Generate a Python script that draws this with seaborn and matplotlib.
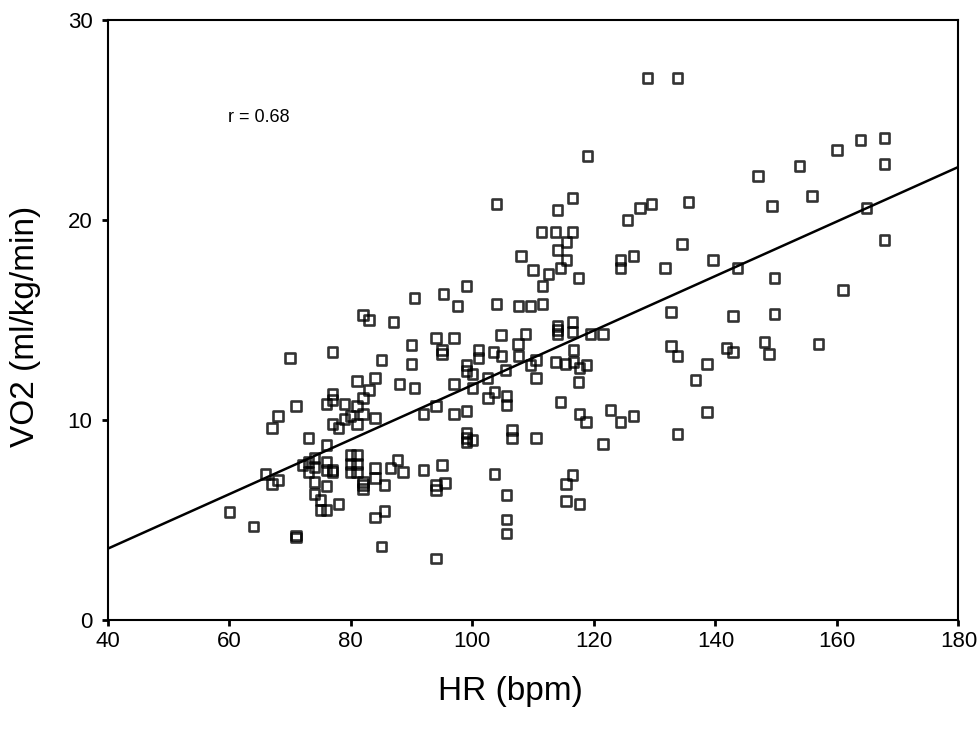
import numpy as np
import pandas as pd
import matplotlib
matplotlib.use('Agg')
import matplotlib.pyplot as plt
import seaborn as sns

# HR (bpm) and VO2 (ml/kg/min)
hr = [60, 64, 66, 67, 68, 71, 71, 70, 71, 68, 67,
      90.5, 97.5, 82, 83, 87, 94, 97, 90, 95, 95, 101, 101, 77, 85, 90, 99, 99, 100, 100,
      97, 81, 84, 88, 90.5, 83, 82, 77, 77, 76, 79, 81, 82, 84, 80, 79, 78, 77, 81,
      92, 94, 97, 99, 99, 99, 99, 100, 73, 76,
      72, 73, 73, 74, 74, 76, 76, 77, 77, 80, 81, 80, 81, 80, 81, 74, 76, 82, 82, 82,
      84, 84, 85.5, 86.5, 87.7, 88.6, 92, 95, 94, 94, 95.5, 74, 75, 75, 76, 78, 85.5,
      84, 85, 94,
      104, 116.5, 114, 111.4, 113.7, 116.5, 115.5, 114, 108, 115.5, 114.5, 112.5, 110,
      117.5, 111.5, 99, 104, 107.6, 109.6, 111.5, 125.5, 127.6, 129.5, 124.4, 124.4,
      126.5, 114, 114, 114, 116.5, 116.5, 104.7, 108.7, 119.4, 121.5,
      107.5, 103.5, 104.8, 107.6, 116.6, 105.5, 102.5, 109.6, 110.5, 110.5, 113.7, 115.3,
      116.6, 117.6, 118.8, 117.5, 103.7, 102.6, 105.6, 105.6, 114.5, 117.6, 118.7, 122.7,
      124.4, 126.5, 106.5, 106.5, 110.5, 121.5, 103.6, 116.5,
      115.4, 105.6, 115.4, 117.6, 105.6, 105.6,
      128.8, 133.8, 167.8, 163.9, 160, 167.8, 153.8, 147, 155.9, 135.6, 149.3, 164.9,
      134.5, 167.8,
      131.7, 139.6, 143.6, 149.7, 161, 132.7, 142.9, 149.7, 132.7, 133.8, 141.8, 142.9,
      148.1, 148.8, 157, 138.6, 136.7, 138.6, 133.8,
      119, 95.3]
vo2 = [5.4, 4.7, 7.3, 6.8, 7.0, 4.25, 4.15, 13.1, 10.7, 10.2, 9.6,
       16.1, 15.7, 15.25, 15.0, 14.9, 14.1, 14.1, 13.75, 13.5, 13.3, 13.5, 13.1, 13.4, 13.0,
       12.8, 12.75, 12.45, 12.3, 11.6,
       11.8, 11.95, 12.1, 11.8, 11.6, 11.5, 11.1, 11.3, 11.0, 10.8, 10.8, 10.7, 10.3, 10.1,
       10.2, 10.05, 9.6, 9.8, 9.8,
       10.3, 10.7, 10.3, 10.45, 9.35, 9.1, 8.9, 9.0, 9.1, 8.75,
       7.75, 7.9, 7.4, 8.1, 7.65, 7.9, 7.5, 7.5, 7.4, 8.25, 8.25, 7.8, 7.8, 7.4, 7.4, 6.9,
       6.7, 6.9, 6.75, 6.55,
       7.6, 7.1, 6.75, 7.6, 8.0, 7.4, 7.5, 7.75, 6.75, 6.5, 6.85, 6.3, 6.0, 5.5, 5.5, 5.8,
       5.45, 5.15, 3.7, 3.1,
       20.8, 21.1, 20.5, 19.4, 19.4, 19.4, 18.9, 18.5, 18.2, 18.0, 17.6, 17.3, 17.5,
       17.1, 16.7, 16.7, 15.8, 15.7, 15.7, 15.8, 20.0, 20.6, 20.8, 18.0, 17.6,
       18.2, 14.7, 14.5, 14.3, 14.9, 14.4, 14.25, 14.3, 14.3, 14.3,
       13.8, 13.4, 13.2, 13.2, 13.5, 12.5, 12.1, 12.75, 13.0, 12.1, 12.9, 12.8,
       12.9, 12.6, 12.75, 11.9, 11.4, 11.1, 11.2, 10.75, 10.9, 10.3, 9.9, 10.5,
       9.9, 10.2, 9.5, 9.1, 9.1, 8.8, 7.3, 7.25,
       6.8, 6.25, 5.95, 5.8, 5.05, 4.35,
       27.1, 27.1, 24.1, 24.0, 23.5, 22.8, 22.7, 22.2, 21.2, 20.9, 20.7, 20.6,
       18.8, 19.0,
       17.6, 18.0, 17.6, 17.1, 16.5, 15.4, 15.2, 15.3, 13.7, 13.2, 13.6, 13.4,
       13.9, 13.3, 13.8, 12.8, 12.0, 10.4, 9.3,
       23.2, 16.3]

x_ticks = [40, 60, 80, 100, 120, 140, 160, 180]
y_ticks = [0, 10, 20, 30]
r_label = 'r = 0.68'

df = pd.DataFrame({'HR': hr, 'VO2': vo2})

sns.set_style('ticks')
plt.rcParams['font.family'] = ['Liberation Sans', 'DejaVu Sans']
plt.rcParams['text.color'] = 'black'
plt.rcParams['axes.labelcolor'] = 'black'

fig = plt.figure(figsize=(9.8, 7.34), dpi=100)
ax = fig.add_axes([0.110, 0.155, 0.868, 0.818])

# limits first so the fitted line runs across the whole box
ax.set_xlim(40, 180)
ax.set_ylim(0, 30)

sns.regplot(data=df, x='HR', y='VO2', ax=ax, ci=None, truncate=False, marker='s',
            scatter_kws={'s': 45, 'facecolors': 'none', 'edgecolors': 'black', 'linewidths': 1.9},
            line_kws={'color': 'black', 'lw': 1.8})

ax.set_xlim(40, 180)
ax.set_ylim(0, 30)
ax.set_xticks(x_ticks)
ax.set_yticks(y_ticks)
for s in ax.spines.values():
    s.set_linewidth(1.5)
    s.set_color('black')
ax.tick_params(direction='out', length=4, width=2, labelsize=16, colors='black', pad=4)
ax.tick_params(axis='y', pad=7)

ax.set_xlabel('HR (bpm)', fontsize=24)
ax.xaxis.set_label_coords(0.473, -0.093)
ax.set_ylabel('VO2 (ml/kg/min)', fontsize=24)
ax.yaxis.set_label_coords(-0.078, 0.49)

ax.text(59.8, 25.1, r_label, fontsize=13, va='center', ha='left')

fig.savefig('out.png', dpi=100)
